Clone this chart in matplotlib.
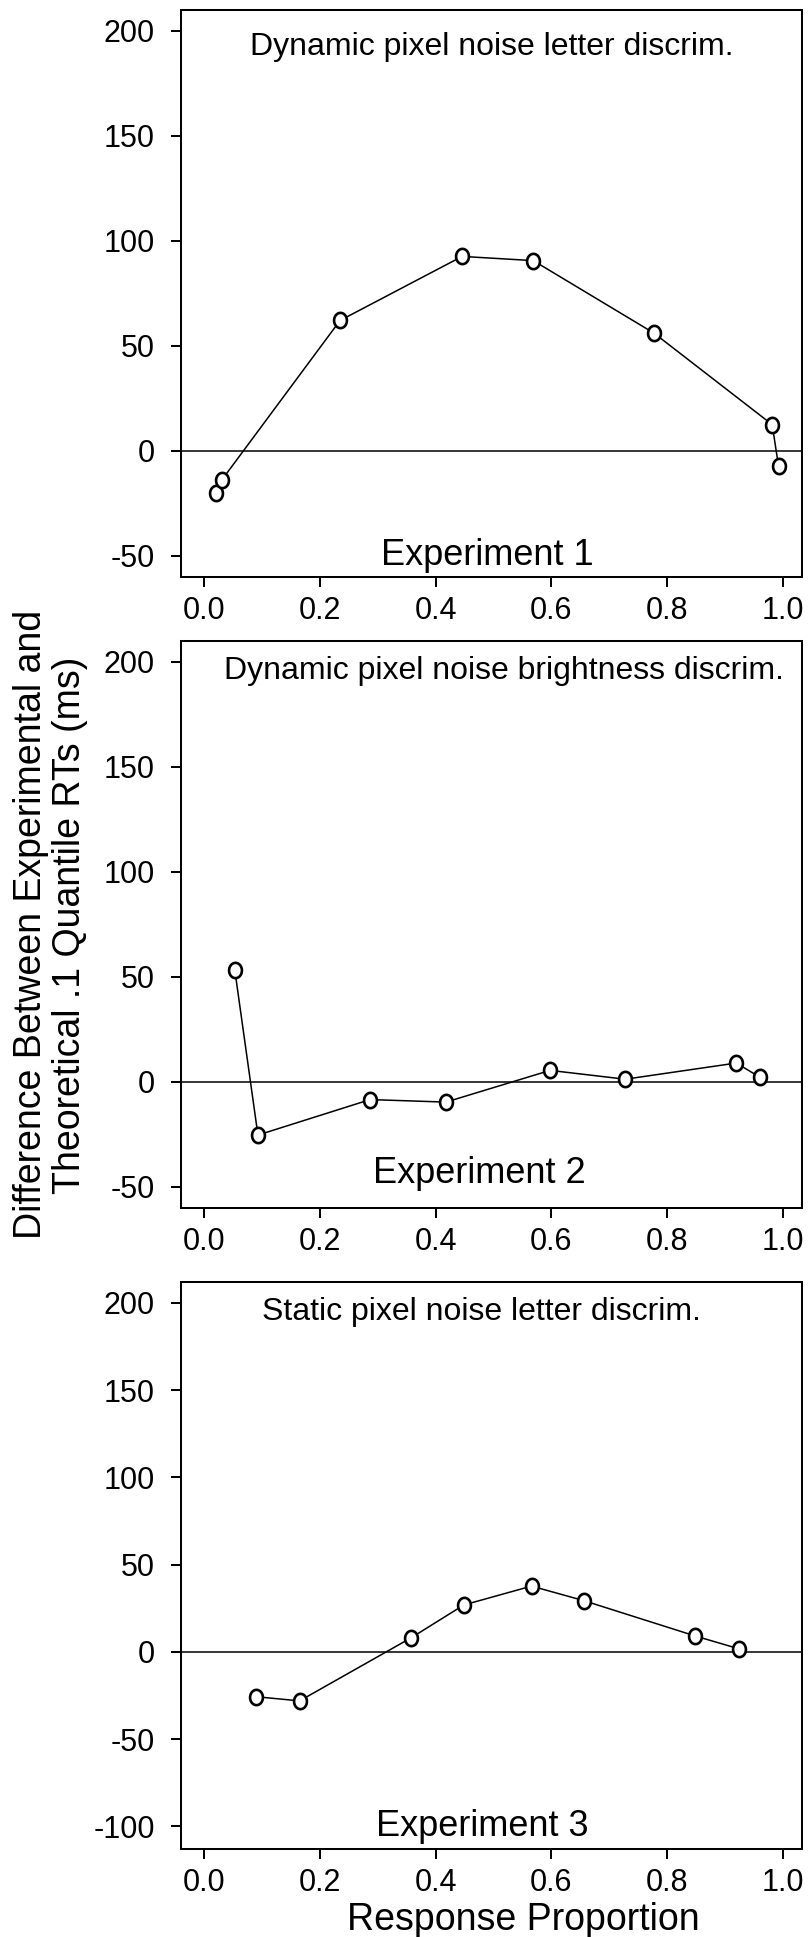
import matplotlib
matplotlib.use("Agg")
import matplotlib.pyplot as plt
from matplotlib.path import Path
import numpy as np

plt.rcParams['font.family'] = ['Liberation Sans', 'DejaVu Sans']
plt.rcParams['axes.unicode_minus'] = False

# response proportion vs. (experimental - theoretical) .1 quantile RT, ms
exp1_x = [0.021, 0.031, 0.235, 0.446, 0.569, 0.778, 0.982, 0.993]
exp1_y = [-20.0, -13.8, 62.0, 92.5, 90.5, 55.9, 12.4, -7.4]

exp2_x = [0.053, 0.093, 0.287, 0.418, 0.598, 0.728, 0.920, 0.961]
exp2_y = [53.2, -25.4, -8.5, -9.7, 5.4, 1.2, 8.9, 2.1]

exp3_x = [0.090, 0.165, 0.358, 0.449, 0.566, 0.656, 0.849, 0.925]
exp3_y = [-25.7, -28.1, 8.1, 26.9, 37.7, 29.4, 9.1, 1.7]

titles = ["Dynamic pixel noise letter discrim.",
          "Dynamic pixel noise brightness discrim.",
          "Static pixel noise letter discrim."]
labels = ["Experiment 1", "Experiment 2", "Experiment 3"]
xticks = [0.0, 0.2, 0.4, 0.6, 0.8, 1.0]
yticks12 = [-50, 0, 50, 100, 150, 200]
yticks3 = [-100, -50, 0, 50, 100, 150, 200]

# slightly tall open "o" marker
t = np.linspace(0, 2 * np.pi, 60)
oval = Path(np.column_stack([0.42 * np.cos(t), 0.5 * np.sin(t)]), closed=True)

fig = plt.figure(figsize=(8.12, 19.37), dpi=100)

panels = [
    (exp1_x, exp1_y, yticks12, (-60, 210), 0.7023, 45, 0.497, (0.49, -50)),
    (exp2_x, exp2_y, yticks12, (-60, 210), 0.3765, 38, 0.518, (0.475, -43.5)),
    (exp3_x, exp3_y, yticks3, (-113, 212), 0.04543, 38, 0.479, (0.48, -100)),
]

for i, (xs, ys, yt, ylim, bottom, tpad, tx, (lx, ly)) in enumerate(panels):
    ax = fig.add_axes([0.2229, bottom, 0.7644, 0.2927])
    ax.axhline(0, color='black', lw=1.1)
    ax.plot(xs, ys, color='black', lw=1.1, marker=oval, markersize=11,
            mfc='white', mec='black', mew=1.9)
    ax.set_xlim(-0.04, 1.033)
    ax.set_ylim(*ylim)
    ax.set_xticks(xticks)
    ax.set_xticklabels(["%.1f" % v for v in xticks])
    ax.set_yticks(yt)
    ax.set_yticklabels([str(v) for v in yt])
    for s in ax.spines.values():
        s.set_linewidth(1.45)
    ax.tick_params(axis='both', length=7.2, width=1.45, labelsize=22)
    ax.tick_params(axis='x', pad=6.5)
    ax.tick_params(axis='y', pad=11.5)
    ax.annotate(titles[i], xy=(tx, 1), xycoords=('data', 'axes fraction'),
                xytext=(0, -tpad * 0.72), textcoords='offset points',
                ha='center', va='baseline', fontsize=23)
    ax.text(lx, ly, labels[i], ha='center', va='center', fontsize=26)

fig.text(0.062, 0.5225,
         "Difference Between Experimental and\nTheoretical .1 Quantile RTs (ms)",
         rotation=90, ha='center', va='center', fontsize=27, linespacing=1.1)
fig.text(0.645, 0.0036, "Response Proportion", ha='center', va='baseline',
         fontsize=27)

fig.savefig("out.png", dpi=100)
